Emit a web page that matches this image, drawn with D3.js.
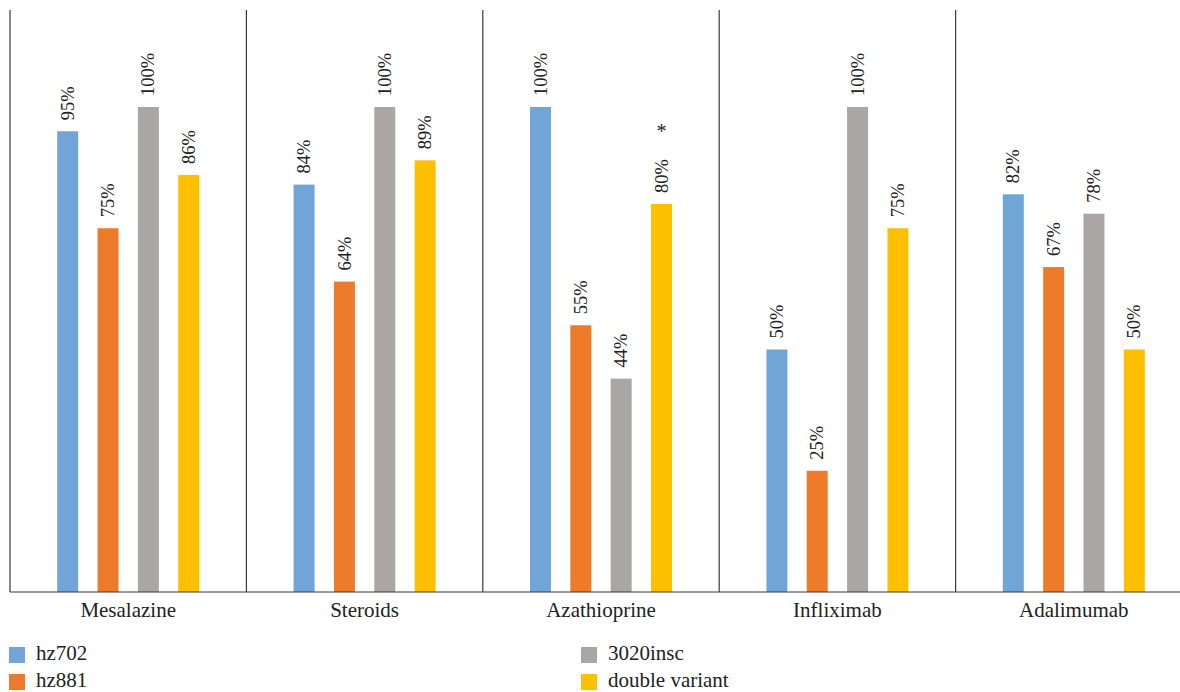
<!DOCTYPE html>
<html>
<head>
<meta charset="utf-8">
<script src="https://cdn.jsdelivr.net/npm/d3@7"></script>
<style>
	body { margin: 0; background: #fff; }
	svg { display: block; width: 1180px; height: 692px; font-family: 'Liberation Serif', 'DejaVu Serif', serif; }
</style>
</head>
<body>
<script>
const categories = ['Mesalazine', 'Steroids', 'Azathioprine', 'Infliximab', 'Adalimumab']
const series = ['hz702', 'hz881', '3020insc', 'double variant']
const hz702 = [95, 84, 100, 50, 82]
const hz881 = [75, 64, 55, 25, 67]
const insc3020 = [100, 100, 44, 100, 78]
const doubleVariant = [86, 89, 80, 75, 50]
const marks = [{ category: 'Azathioprine', series: 'double variant', text: '*' }]
const colors = ['#71a5d7', '#ee7b2a', '#aaa6a5', '#fcc000']

const values = [hz702, hz881, insc3020, doubleVariant]
const data = categories.map((c, i) => ({ category: c, bars: series.map((s, j) => ({ series: s, value: values[j][i] })) }))

const svg = d3.select('body').append('svg')
const plotLeft = 10, plotTop = 10, plotBottom = 592, groupWidth = 236.4

const x0 = d3.scaleBand().domain(categories).range([plotLeft, plotLeft + groupWidth * categories.length])
const x1 = d3.scaleBand().domain(series).range([0, x0.bandwidth()]).paddingInner(0.48).paddingOuter(1.17)
const y = d3.scaleLinear().domain([0, 120]).range([plotBottom, plotTop])
const color = d3.scaleOrdinal(series, colors)

// bars
const group = svg.selectAll('g.group').data(data).join('g').classed('group', true)
	.attr('transform', d => `translate(${x0(d.category)},0)`)
group.selectAll('rect').data(d => d.bars).join('rect')
	.attr('x', d => x1(d.series))
	.attr('y', d => y(d.value))
	.attr('width', x1.bandwidth())
	.attr('height', d => plotBottom - y(d.value))
	.attr('fill', d => color(d.series))

// value labels, rotated
group.selectAll('text.value').data(d => d.bars).join('text').classed('value', true)
	.attr('transform', d => `translate(${x1(d.series) + x1.bandwidth() / 2},${y(d.value) - 11}) rotate(-90)`)
	.attr('dy', '0.33em')
	.attr('font-size', 18.5)
	.attr('fill', '#222')
	.text(d => d.value + '%')

// significance marks
svg.selectAll('text.mark').data(marks).join('text').classed('mark', true)
	.attr('x', d => x0(d.category) + x1(d.series) + x1.bandwidth() / 2)
	.attr('y', d => y(data.find(r => r.category === d.category).bars.find(b => b.series === d.series).value) - 66)
	.attr('text-anchor', 'middle')
	.attr('font-size', 20)
	.attr('fill', '#222')
	.text(d => d.text)

// separators and axis
const lines = svg.append('g').attr('stroke', '#3a3a3a').attr('stroke-width', 1.2)
lines.selectAll('line.sep').data(categories).join('line').classed('sep', true)
	.attr('x1', d => x0(d)).attr('x2', d => x0(d))
	.attr('y1', plotTop).attr('y2', plotBottom)
lines.append('line')
	.attr('x1', plotLeft).attr('x2', x0.range()[1])
	.attr('y1', plotBottom).attr('y2', plotBottom)

svg.selectAll('text.cat').data(categories).join('text').classed('cat', true)
	.attr('x', d => x0(d) + x0.bandwidth() / 2)
	.attr('y', 617)
	.attr('text-anchor', 'middle')
	.attr('font-size', 21)
	.attr('fill', '#222')
	.text(d => d)

// legend
const legendPos = [[9, 647], [9, 674], [581, 647], [581, 674]]
const legend = svg.selectAll('g.legend').data(series).join('g').classed('legend', true)
	.attr('transform', (_, i) => `translate(${legendPos[i][0]},${legendPos[i][1]})`)
legend.append('rect')
	.attr('width', 16).attr('height', 16)
	.attr('fill', d => color(d))
legend.append('text')
	.attr('x', 27).attr('y', 13)
	.attr('font-size', 21)
	.attr('fill', '#222')
	.text(d => d)
</script>
</body>
</html>
